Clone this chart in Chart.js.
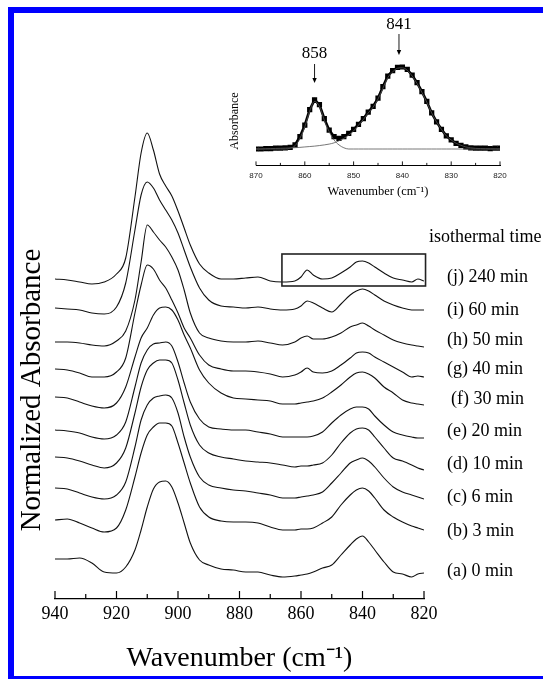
<!DOCTYPE html>
<html>
<head>
<meta charset="utf-8">
<script src="https://cdn.jsdelivr.net/npm/chart.js@4.4.0/dist/chart.umd.min.js"></script>
<style>
  html, body { margin: 0; padding: 0; background: #fff; }
  #wrap { position: relative; width: 543px; height: 679px; overflow: hidden; }
  canvas { position: absolute; left: 0; top: 0; }
</style>
</head>
<body>
<div id="wrap">
  <canvas id="main" width="543" height="679"></canvas>
  <canvas id="inset" width="543" height="679"></canvas>
</div>
<script>
// wavenumber grid (cm-1) shared by all spectra
var wavenumbers = [940,936,932,928,924,920,917,914,912,910,908,906,904,902,900,898,896,893,890,886,882,878,874,870,866,862,860,858,856,853,850,847,844,842,840,838,836,833,830,827,824,822,820];

// normalized absorbance, offset-stacked, one array per isothermal time
var specA = [0.44,0.44,0.45,0.40,0.31,0.30,0.36,0.53,0.73,0.96,1.14,1.21,1.22,1.16,1.00,0.80,0.60,0.43,0.38,0.34,0.33,0.31,0.31,0.28,0.26,0.27,0.28,0.29,0.31,0.35,0.38,0.48,0.58,0.64,0.67,0.61,0.53,0.41,0.31,0.29,0.26,0.29,0.30];
var specB = [0.83,0.84,0.80,0.75,0.71,0.75,0.93,1.26,1.50,1.68,1.76,1.80,1.80,1.77,1.60,1.40,1.20,0.96,0.86,0.82,0.81,0.81,0.80,0.76,0.73,0.73,0.74,0.74,0.75,0.80,0.86,0.98,1.08,1.13,1.15,1.12,1.05,0.93,0.86,0.81,0.77,0.75,0.73];
var specC = [1.15,1.14,1.10,1.06,1.04,1.08,1.21,1.56,1.83,1.98,2.05,2.07,2.08,2.05,1.90,1.66,1.46,1.26,1.18,1.15,1.13,1.12,1.10,1.08,1.05,1.05,1.06,1.07,1.08,1.11,1.20,1.30,1.40,1.43,1.45,1.42,1.36,1.25,1.16,1.11,1.08,1.06,1.04];
var specD = [1.46,1.45,1.42,1.38,1.35,1.40,1.55,1.90,2.16,2.33,2.40,2.43,2.43,2.40,2.23,2.00,1.78,1.58,1.50,1.46,1.44,1.42,1.41,1.40,1.38,1.36,1.37,1.37,1.38,1.40,1.48,1.60,1.70,1.74,1.75,1.73,1.66,1.55,1.45,1.42,1.38,1.35,1.33];
var specE = [1.73,1.72,1.70,1.66,1.64,1.68,1.81,2.16,2.40,2.53,2.59,2.60,2.61,2.57,2.41,2.20,2.01,1.84,1.76,1.74,1.73,1.73,1.71,1.69,1.66,1.66,1.66,1.66,1.67,1.71,1.80,1.88,1.94,1.96,1.96,1.94,1.87,1.78,1.71,1.68,1.66,1.65,1.65];
var specF = [2.06,2.05,2.01,1.97,1.95,2.00,2.16,2.46,2.65,2.75,2.88,2.95,2.96,2.93,2.83,2.68,2.55,2.33,2.20,2.10,2.05,2.04,2.03,2.02,1.99,1.99,2.00,2.01,2.02,2.05,2.11,2.18,2.26,2.30,2.31,2.29,2.25,2.16,2.10,2.03,2.00,1.99,1.98];
var specG = [2.34,2.33,2.30,2.26,2.26,2.31,2.45,2.90,3.18,3.38,3.34,3.23,3.15,3.03,2.90,2.75,2.65,2.48,2.38,2.34,2.32,2.32,2.31,2.29,2.26,2.28,2.31,2.35,2.31,2.30,2.32,2.38,2.45,2.50,2.51,2.50,2.46,2.41,2.36,2.31,2.26,2.27,2.26];
var specH = [2.61,2.61,2.60,2.58,2.57,2.62,2.72,3.03,3.41,3.78,3.71,3.63,3.56,3.46,3.33,3.13,2.90,2.70,2.65,2.62,2.61,2.61,2.62,2.60,2.58,2.61,2.65,2.67,2.64,2.64,2.66,2.70,2.76,2.78,2.80,2.77,2.73,2.68,2.63,2.60,2.58,2.57,2.56];
var specI = [2.95,2.94,2.93,2.90,2.89,2.96,3.20,3.73,4.08,4.21,4.15,4.03,3.93,3.83,3.70,3.53,3.36,3.15,3.03,2.97,2.96,2.95,2.96,2.94,2.93,2.94,2.97,3.02,3.00,2.95,2.91,2.99,3.08,3.12,3.14,3.12,3.08,3.02,2.98,2.95,2.93,2.93,2.93];
var specJ = [3.24,3.23,3.21,3.19,3.21,3.29,3.45,4.06,4.50,4.70,4.53,4.29,4.17,4.07,3.92,3.75,3.58,3.39,3.30,3.24,3.24,3.25,3.26,3.22,3.21,3.22,3.26,3.33,3.28,3.24,3.25,3.30,3.36,3.41,3.42,3.40,3.36,3.30,3.25,3.23,3.21,3.24,3.22];

var spectra = [specA, specB, specC, specD, specE, specF, specG, specH, specI, specJ];
var seriesNames = ['(a) 0 min','(b) 3 min','(c) 6 min','(d) 10 min','(e) 20 min','(f) 30 min','(g) 40 min','(h) 50 min','(i) 60 min','(j) 240 min'];
var xTicks = [940, 920, 900, 880, 860, 840, 820];
var xMinorTicks = [930, 910, 890, 870, 850, 830];

// inset: band fit of the 240 min spectrum
var insetWn = [870,869,868,867,866,865,864,863,862,861,860,859,858,857,856,855,854,853,852,851,850,849,848,847,846,845,844,843,842,841,840,839,838,837,836,835,834,833,832,831,830,829,828,827,826,825,824,823,822,821,820];
var insetAbs = [0,0,0.005,0.005,0.01,0.01,0.015,0.02,0.05,0.15,0.29,0.48,0.60,0.54,0.37,0.23,0.15,0.13,0.15,0.19,0.24,0.30,0.37,0.45,0.52,0.62,0.76,0.89,0.955,0.995,1.0,0.97,0.90,0.81,0.70,0.58,0.44,0.33,0.24,0.16,0.11,0.07,0.045,0.025,0.015,0.01,0.01,0.01,0.005,0.01,0.01];
var fit858 = [0,0,0,0,0,0,0,0.01,0.04,0.13,0.27,0.46,0.58,0.52,0.35,0.21,0.11,0.05,0.015,0,0,0,0,0,0,0,0,0,0,0,0,0,0,0,0,0,0,0,0,0,0,0,0,0,0,0,0,0,0,0,0];
var fit841 = [0,0,0.003,0.005,0.007,0.009,0.011,0.013,0.016,0.02,0.025,0.03,0.035,0.042,0.05,0.06,0.075,0.10,0.13,0.17,0.22,0.29,0.36,0.44,0.51,0.61,0.74,0.87,0.94,0.985,0.99,0.96,0.89,0.80,0.69,0.57,0.44,0.33,0.24,0.16,0.11,0.07,0.045,0.025,0.015,0.008,0.005,0.003,0.002,0.001,0];
var insetTicks = [870, 860, 850, 840, 830, 820];
var insetMinorTicks = [865, 855, 845, 835, 825];

var serif = "'Liberation Serif', 'Times New Roman', serif";

function toPoints(xs, ys) {
  return xs.map(function (x, k) { return {x: x, y: ys[k]}; });
}

// ticks drawn inward (pointing up) like the original plot
function drawUpTicks(ctx, scale, major, minor, majorLen, minorLen) {
  var base = scale.top;
  ctx.beginPath();
  major.forEach(function (v) {
    var px = scale.getPixelForValue(v);
    ctx.moveTo(px, base); ctx.lineTo(px, base - majorLen);
  });
  minor.forEach(function (v) {
    var px = scale.getPixelForValue(v);
    ctx.moveTo(px, base); ctx.lineTo(px, base - minorLen);
  });
  ctx.stroke();
}

var mainDecor = {
  id: 'mainDecor',
  afterDraw: function (chart) {
    var ctx = chart.ctx, xs = chart.scales.x, ys = chart.scales.y;
    ctx.save();
    ctx.strokeStyle = '#000';
    ctx.lineWidth = 1.2;
    drawUpTicks(ctx, xs, xTicks, xMinorTicks, 8, 5);

    // box around the 858/841 region of (j)
    ctx.lineWidth = 1.6;
    ctx.strokeStyle = '#222';
    var bx1 = xs.getPixelForValue(866.2), bx2 = xs.getPixelForValue(819.5);
    var by1 = ys.getPixelForValue(3.49), by2 = ys.getPixelForValue(3.17);
    ctx.strokeRect(bx1, by1, bx2 - bx1, by2 - by1);

    // series labels
    ctx.fillStyle = '#000';
    ctx.font = '18px ' + serif;
    ctx.textBaseline = 'middle';
    ctx.textAlign = 'left';
    ctx.fillText('isothermal time', 429, 237);
    var labelY = [571, 531, 497, 464, 431, 399, 369, 340, 310, 277];
    seriesNames.forEach(function (name, k) {
      ctx.fillText(name, k === 5 ? 451 : 447, labelY[k]);
    });

    // y axis title
    ctx.save();
    ctx.translate(32, 390);
    ctx.rotate(-Math.PI / 2);
    ctx.textAlign = 'center';
    ctx.font = '29px ' + serif;
    ctx.fillText('Normalized Absorbance', 0, 0);
    ctx.restore();

    // blue frame
    ctx.fillStyle = '#0000ff';
    ctx.fillRect(8, 7, 535, 6);
    ctx.fillRect(8, 7, 6, 672);
    ctx.fillRect(8, 676, 535, 3);
    ctx.restore();
  }
};

var datasets = spectra.map(function (s, k) {
  return {
    label: seriesNames[k],
    data: toPoints(wavenumbers, s),
    borderColor: '#111',
    borderWidth: 1.1,
    pointRadius: 0,
    cubicInterpolationMode: 'monotone',
    fill: false
  };
});

var mainChart = new Chart(document.getElementById('main'), {
  type: 'line',
  data: {datasets: datasets},
  options: {
    responsive: false,
    animation: false,
    devicePixelRatio: 1,
    events: [],
    layout: {padding: {left: 55, right: 119, top: 103, bottom: 0}},
    plugins: {legend: {display: false}, tooltip: {enabled: false}},
    scales: {
      x: {
        type: 'linear',
        reverse: true,
        min: 820,
        max: 940,
        afterFit: function (s) { s.height = 80; },
        afterBuildTicks: function (s) { s.ticks = xTicks.map(function (v) { return {value: v}; }); },
        ticks: {font: {family: serif, size: 18}, color: '#000', padding: -4, maxRotation: 0, autoSkip: false},
        grid: {display: false},
        border: {display: true, color: '#000', width: 1.3},
        title: {display: true, text: 'Wavenumber (cm\u207B\u00B9)', color: '#000', font: {family: serif, size: 28}, padding: {top: 0, bottom: 4}}
      },
      y: {display: false, min: 0.04, max: 5}
    }
  },
  plugins: [mainDecor]
});

var insetDecor = {
  id: 'insetDecor',
  afterDraw: function (chart) {
    var ctx = chart.ctx, xs = chart.scales.x;
    ctx.save();
    ctx.strokeStyle = '#000';
    ctx.lineWidth = 0.9;
    drawUpTicks(ctx, xs, insetTicks, insetMinorTicks, 4, 2.5);

    ctx.fillStyle = '#000';
    ctx.textBaseline = 'middle';
    ctx.textAlign = 'center';
    ctx.font = '17px ' + serif;
    ctx.fillText('858', xs.getPixelForValue(858), 54);
    ctx.fillText('841', xs.getPixelForValue(840.7), 25);

    // arrows
    [[858, 64, 83], [840.7, 34, 55]].forEach(function (a) {
      var px = xs.getPixelForValue(a[0]);
      ctx.beginPath();
      ctx.moveTo(px, a[1]); ctx.lineTo(px, a[2] - 3);
      ctx.stroke();
      ctx.beginPath();
      ctx.moveTo(px - 2.2, a[2] - 5); ctx.lineTo(px + 2.2, a[2] - 5); ctx.lineTo(px, a[2]);
      ctx.closePath();
      ctx.fill();
    });

    ctx.save();
    ctx.translate(235, 121);
    ctx.rotate(-Math.PI / 2);
    ctx.font = '12px ' + serif;
    ctx.fillText('Absorbance', 0, 0);
    ctx.restore();
    ctx.restore();
  }
};

var insetChart = new Chart(document.getElementById('inset'), {
  type: 'line',
  data: {
    datasets: [
      {
        label: 'data',
        data: toPoints(insetWn, insetAbs),
        showLine: true,
        borderColor: '#000',
        borderWidth: 2.6,
        pointStyle: 'rect',
        pointRadius: 3.7,
        pointBorderWidth: 0,
        pointBackgroundColor: '#000',
        order: 2
      },
      {
        label: '858 band',
        data: toPoints(insetWn, fit858),
        borderColor: '#555',
        borderWidth: 0.8,
        pointRadius: 0,
        cubicInterpolationMode: 'monotone',
        order: 1
      },
      {
        label: '841 band',
        data: toPoints(insetWn, fit841),
        borderColor: '#555',
        borderWidth: 0.8,
        pointRadius: 0,
        cubicInterpolationMode: 'monotone',
        order: 1
      }
    ]
  },
  options: {
    responsive: false,
    animation: false,
    devicePixelRatio: 1,
    events: [],
    layout: {padding: {left: 256, right: 43, top: 50.6, bottom: 479.5}},
    plugins: {legend: {display: false}, tooltip: {enabled: false}},
    scales: {
      x: {
        type: 'linear',
        reverse: true,
        min: 820,
        max: 870,
        afterFit: function (s) { s.height = 34.1; },
        afterBuildTicks: function (s) { s.ticks = insetTicks.map(function (v) { return {value: v}; }); },
        ticks: {font: {family: "'Liberation Sans', Arial, sans-serif", size: 8}, color: '#222', padding: -2, maxRotation: 0, autoSkip: false},
        grid: {display: false},
        border: {display: true, color: '#000', width: 1},
        title: {display: true, text: 'Wavenumber (cm\u207B\u00B9)', color: '#000', font: {family: serif, size: 12.5}, padding: 0}
      },
      y: {display: false, min: -0.2, max: 1.2}
    }
  },
  plugins: [insetDecor]
});
</script>
</body>
</html>
